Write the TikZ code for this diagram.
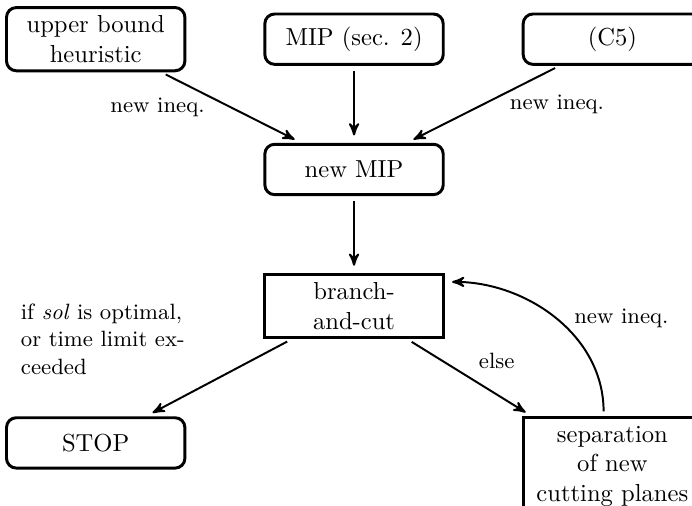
\documentclass[tikz,border=0pt]{standalone}
\usepackage{tikz}
\usetikzlibrary{arrows}
\usetikzlibrary{positioning}

\begin{document}
\begin{tikzpicture}[node distance=1.1cm,>=stealth',
rbox/.style={draw,very thick,rounded corners=4pt,minimum width=2.55cm,minimum height=0.72cm,align=center},
sbox/.style={draw,very thick,minimum width=2.55cm,minimum height=0.72cm,align=center},
arr/.style={->,thick,shorten >=3pt,shorten <=2pt},
lbl/.style={font=\small}]
\useasboundingbox (-5.06,0.56) rectangle (4.83,-6.67);
\node[rbox] (mip) {MIP (sec. 2)};
\node[rbox,left=of mip] (ub) {upper bound\\heuristic};
\node[rbox,right=of mip] (c5) {(C5)};
\node[rbox,below=of mip] (nmip) {new MIP};
\node[sbox,below=of nmip] (bac) {branch-\\and-cut};
\path (bac.south -| ub) ++(0,-1.1) node[rbox,anchor=north] (stop) {STOP};
\path (bac.south -| c5) ++(0,-1.1) node[sbox,anchor=north] (sep) {separation\\of new\\cutting planes};
\node[lbl,align=left,left=1cm of bac.south west] (cond) {if \emph{sol} is optimal,\\or time limit ex-\\ceeded};
\draw[arr] (ub) -- node[lbl,midway,left=2.5mm] {new ineq.} (nmip);
\draw[arr] (mip) -- (nmip);
\draw[arr] (c5) -- node[lbl,midway,right=2.5mm] {new ineq.} (nmip);
\draw[arr] (nmip) -- (bac);
\draw[arr] (bac) -- (stop);
\draw[arr] (bac) -- node[lbl,midway,above right] {else} (sep);
\draw[arr] (sep.100) to[out=90,in=0] node[lbl,midway,right=1.5mm] {new ineq.} (bac.15);
\end{tikzpicture}
\end{document}
